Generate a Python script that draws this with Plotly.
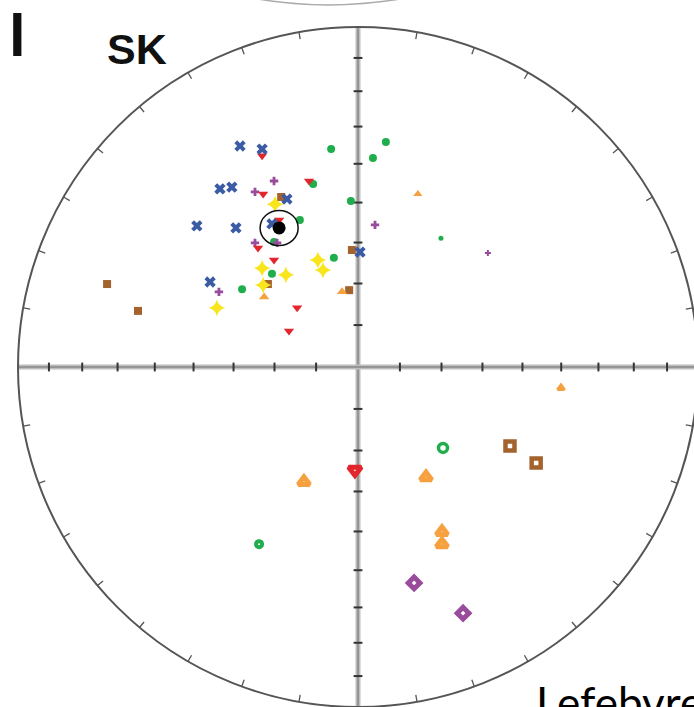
import math
import plotly.graph_objects as go

# Equal-area projected coordinates (unit circle radius = 1), x = east, y = north
# Filled symbols (lower hemisphere), small
blue_x = [-0.347, -0.282, -0.406, -0.371, -0.209, -0.474, -0.359, -0.253, -0.435, 0.006]
blue_y = [0.650, 0.641, 0.524, 0.529, 0.494, 0.415, 0.409, 0.421, 0.250, 0.338]

red_x = [-0.282, -0.144, -0.279, -0.232, -0.294, -0.247, -0.179, -0.203]
red_y = [0.621, 0.547, 0.509, 0.432, 0.350, 0.315, 0.174, 0.106]

green_x = [-0.079, 0.044, 0.082, -0.132, -0.021, -0.171, -0.247, -0.071, -0.253, -0.341]
green_y = [0.641, 0.615, 0.662, 0.538, 0.488, 0.432, 0.368, 0.321, 0.274, 0.229]

purple_x = [-0.247, -0.303, -0.238, -0.303, 0.050, -0.409]
purple_y = [0.547, 0.515, 0.365, 0.365, 0.418, 0.221]

yellow_x = [-0.244, -0.118, -0.282, -0.103, -0.212, -0.279, -0.415]
yellow_y = [0.479, 0.315, 0.291, 0.285, 0.271, 0.241, 0.174]

brown_x = [-0.226, -0.018, -0.265, -0.026, -0.738, -0.647]
brown_y = [0.500, 0.344, 0.244, 0.226, 0.244, 0.165]

orange_x = [-0.276, -0.047]
orange_y = [0.206, 0.221]

# tiny markers
green_tiny_x = [0.244]
green_tiny_y = [0.379]
purple_tiny_x = [0.382]
purple_tiny_y = [0.335]
orange_tiny_x = [0.176]
orange_tiny_y = [0.509]

# Upper hemisphere (open, thick outline) symbols
red_up_x = [-0.009]
red_up_y = [-0.303]
orange_up_x = [-0.159, 0.200, 0.247, 0.247]
orange_up_y = [-0.338, -0.324, -0.485, -0.521]
orange_up_small_x = [0.597]
orange_up_small_y = [-0.062]
green_up_x = [0.250]
green_up_y = [-0.238]
green_up2_x = [-0.291]
green_up2_y = [-0.521]
brown_up_x = [0.447, 0.524]
brown_up_y = [-0.232, -0.282]
purple_up_x = [0.165, 0.309]
purple_up_y = [-0.635, -0.724]

# Mean direction and its confidence circle
mean_x = [-0.232]
mean_y = [0.409]
mean_a95 = 0.056

# Reference inclinations for axis ticks, declination step for rim ticks
tick_incs = [10, 20, 30, 40, 50, 60, 70, 80]
rim_step = 10

BLUE = "#3b5ba5"
RED = "#e3262e"
GREEN = "#1fae4b"
PURPLE = "#9a4c9c"
YELLOW = "#f8e51c"
BROWN = "#a4622c"
ORANGE = "#f6a03f"

fig = go.Figure()

def add(xs, ys, symbol, color, size, lw=0):
    fig.add_trace(go.Scatter(
        x=xs, y=ys, mode="markers", hoverinfo="skip",
        marker=dict(symbol=symbol, color=color, size=size,
                    line=dict(color=color, width=lw))))

add(brown_x, brown_y, "square", BROWN, 8)
add(green_x, green_y, "circle", GREEN, 8)
add(green_tiny_x, green_tiny_y, "circle", GREEN, 5)
add(orange_x, orange_y, "triangle-up", ORANGE, 9)
add(orange_tiny_x, orange_tiny_y, "triangle-up", ORANGE, 8)
add(yellow_x, yellow_y, "star-diamond", YELLOW, 12)
add(purple_x, purple_y, "cross", PURPLE, 7)
add(purple_tiny_x, purple_tiny_y, "cross", PURPLE, 5)
add(red_x, red_y, "triangle-down", RED, 9)
add(blue_x, blue_y, "x", BLUE, 10)

add(red_up_x, red_up_y, "triangle-down-open", RED, 11, 5)
add(orange_up_x, orange_up_y, "triangle-up-open", ORANGE, 10, 5)
add(orange_up_small_x, orange_up_small_y, "triangle-up-open", ORANGE, 6, 3)
add(green_up_x, green_up_y, "circle-open", GREEN, 9, 3.5)
add(green_up2_x, green_up2_y, "circle-open", GREEN, 6, 4)
add(brown_up_x, brown_up_y, "square-open", BROWN, 9, 4.5)
add(purple_up_x, purple_up_y, "diamond-open", PURPLE, 9, 5)

add(mean_x, mean_y, "circle", "#000000", 13)

shapes = []
# axis cross
for (x0, y0, x1, y1) in [(0, -1, 0, 1), (-1, 0, 1, 0)]:
    shapes.append(dict(type="line", x0=x0, y0=y0, x1=x1, y1=y1, layer="below",
                       line=dict(color="#bdbdbd", width=5)))
    shapes.append(dict(type="line", x0=x0, y0=y0, x1=x1, y1=y1, layer="below",
                       line=dict(color="#6e6e6e", width=1)))
# axis ticks (equal-area radii)
h = 0.013
for inc in tick_incs:
    r = math.sqrt(2) * math.sin(math.radians((90 - inc) / 2))
    for s in (1, -1):
        shapes.append(dict(type="line", x0=s * r, x1=s * r, y0=-h, y1=h, layer="below",
                           line=dict(color="#333333", width=2)))
        shapes.append(dict(type="line", y0=s * r, y1=s * r, x0=-h, x1=h, layer="below",
                           line=dict(color="#333333", width=2)))
# primitive circle
shapes.append(dict(type="circle", x0=-1, y0=-1, x1=1, y1=1, layer="below",
                   line=dict(color="#555555", width=2)))
# rim ticks
for d in range(0, 360, rim_step):
    if d % 90 == 0:
        continue
    a = math.radians(d)
    sx, cy = math.sin(a), math.cos(a)
    shapes.append(dict(type="line", x0=sx, y0=cy, x1=sx * 0.979, y1=cy * 0.979, layer="below",
                       line=dict(color="#555555", width=1.3)))
# confidence circle
shapes.append(dict(type="circle", x0=mean_x[0] - mean_a95, x1=mean_x[0] + mean_a95,
                   y0=mean_y[0] - mean_a95 * 0.92, y1=mean_y[0] + mean_a95 * 0.92,
                   line=dict(color="#111111", width=1.5)))
# faint arc from panel above
shapes.append(dict(type="path", path="M -0.31,1.085 Q -0.09,1.045 0.14,1.085",
                   line=dict(color="#aaaaaa", width=1.5)))

annotations = [
    dict(text="<b>SK</b>", x=105 / 694, y=1 - 49 / 707, xref="paper", yref="paper",
         xanchor="left", yanchor="middle", showarrow=False,
         font=dict(family="Liberation Sans", size=43, color="#111111")),
    dict(text="<b>l</b>", x=17 / 694, y=1 - 36 / 707, xref="paper", yref="paper",
         xanchor="center", yanchor="middle", showarrow=False,
         font=dict(family="Liberation Sans", size=60, color="#111111")),
    dict(text="Lefebvre", x=534 / 694, y=1 - 702 / 707, xref="paper", yref="paper",
         xanchor="left", yanchor="middle", showarrow=False,
         font=dict(family="Lato", size=44, color="#000000")),
]

fig.update_layout(
    width=694, height=707, margin=dict(l=0, r=0, t=0, b=0),
    paper_bgcolor="white", plot_bgcolor="white", showlegend=False,
    xaxis=dict(range=[-358 / 340, 336 / 340], visible=False, fixedrange=True),
    yaxis=dict(range=[-340 / 340, 367 / 340], visible=False, fixedrange=True),
    shapes=shapes, annotations=annotations,
)

fig.write_html("out.html")
